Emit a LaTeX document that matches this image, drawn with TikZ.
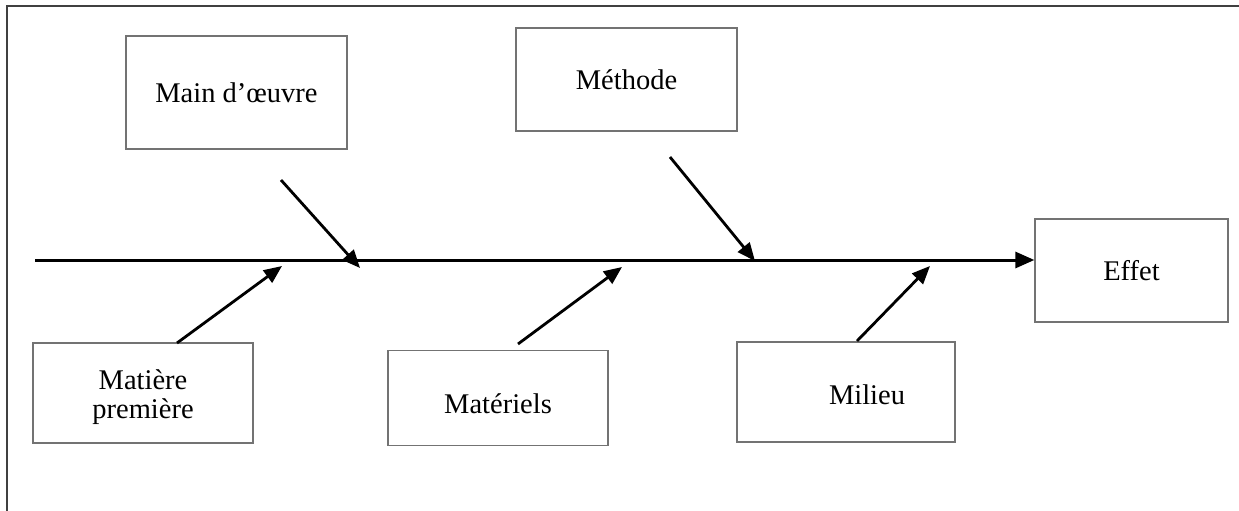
\documentclass[tikz,border=0pt]{standalone}
\usepackage{fontspec}
\setmainfont{Liberation Serif}
\usetikzlibrary{arrows.meta}

\begin{document}
\begin{tikzpicture}[x=1pt, y=-1pt,
    cause/.style={draw=black!55, line width=1.3pt, align=center, inner sep=0pt},
    bone/.style={-{Triangle[length=18pt,width=15pt]}, line width=2.8pt},
    spine/.style={-{Triangle[length=19pt,width=16pt]}, line width=3pt},
    every node/.style={font=\fontsize{28.5}{29}\selectfont}
]
    \useasboundingbox (0,0) rectangle (1239,511);
    % frame
    \draw[black!75, line width=1.3pt] (7,520) -- (7,6) -- (1250,6);

    % boxes
    \node[cause, minimum width=221pt, minimum height=113pt] (main) at (236.5,92.5) {Main d’œuvre};
    \node[cause, minimum width=221pt, minimum height=103pt] (methode) at (626.5,79.5) {Méthode};
    \node[cause, minimum width=193pt, minimum height=103pt] (effet) at (1131.5,270.5) {Effet};
    \node[cause, minimum width=220pt, minimum height=100pt,
          label={[yshift=-4pt, align=center]center:Matière\\première}] (matiere) at (143,393) {};
    \node[cause, minimum width=220pt, minimum height=95pt,
          label={[yshift=-6pt]center:Matériels}] (materiels) at (498,398) {};
    \node[cause, minimum width=218pt, minimum height=100pt,
          label={[xshift=21pt, yshift=-3pt]center:Milieu}] (milieu) at (846,392) {};

    % spine
    \coordinate (tail) at (35,260);
    \draw[spine] (tail) -- (effet.west |- tail);

    % bones
    \coordinate (t1) at (281,180);  \coordinate (h1) at (360,268);
    \coordinate (t2) at (670,157);  \coordinate (h2) at (755,261);
    \coordinate (t3) at (177,343);  \coordinate (h3) at (282,266);
    \coordinate (t4) at (518,344);  \coordinate (h4) at (622,267);
    \coordinate (t5) at (857,341);  \coordinate (h5) at (930,266);
    \draw[bone] (t1) -- (h1);
    \draw[bone] (t2) -- (h2);
    \draw[bone] (t3) -- (h3);
    \draw[bone] (t4) -- (h4);
    \draw[bone] (t5) -- (h5);
\end{tikzpicture}
\end{document}
